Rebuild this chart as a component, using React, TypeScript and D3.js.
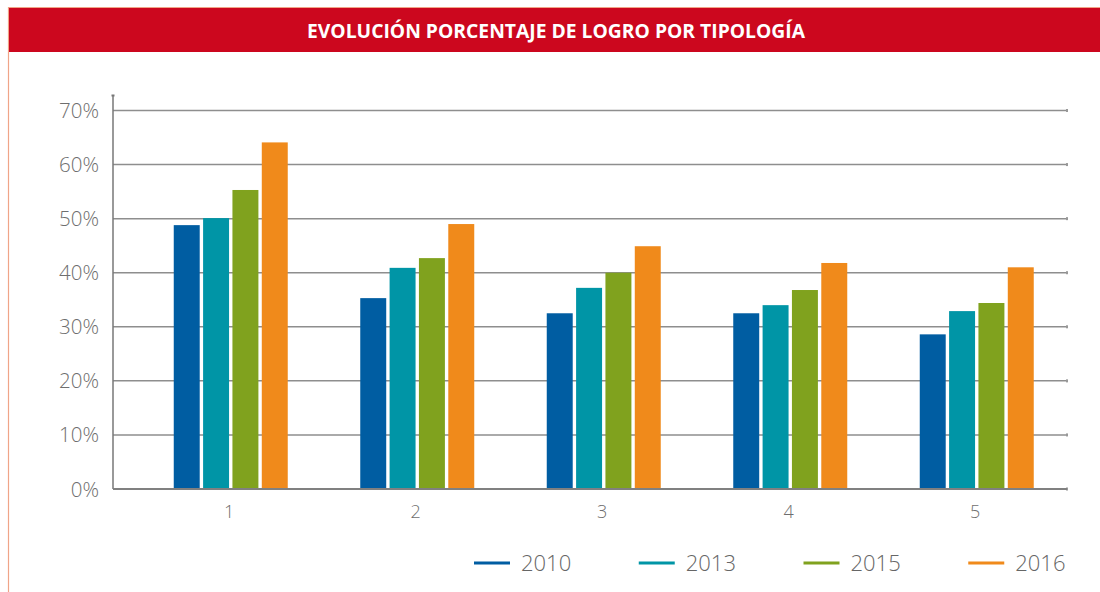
import React from "react";
import * as d3 from "d3";

const categories = ["1", "2", "3", "4", "5"];
const seriesNames = ["2010", "2013", "2015", "2016"];
const values2010 = [48.8, 35.3, 32.5, 32.5, 28.6];
const values2013 = [50.1, 40.9, 37.2, 34.0, 32.9];
const values2015 = [55.3, 42.7, 40.0, 36.8, 34.4];
const values2016 = [64.1, 49.0, 44.9, 41.8, 41.0];
const yTicks = [0, 10, 20, 30, 40, 50, 60, 70];
const colors = ["#005da2", "#0095a6", "#80a21e", "#f08a1b"];
const title = "EVOLUCIÓN PORCENTAJE DE LOGRO POR TIPOLOGÍA";

const W = 1100;
const H = 592;

export default function App() {
  const series = [values2010, values2013, values2015, values2016];
  const y = d3.scaleLinear().domain([0, 70]).range([489, 110.5]);
  const x0 = d3.scaleBand<string>().domain(categories).range([136, 1068.5]).paddingInner(0).paddingOuter(0);
  const groupW = 114;
  const x1 = d3.scaleBand<string>().domain(seriesNames).range([0, groupW]).paddingInner(0.115).paddingOuter(0);
  const axisX = 113;
  const gridEnd = 1067;
  const legendX = d3.scaleBand<string>().domain(seriesNames).range([474, 1133]);

  return (
    <div style={{ position: "absolute", left: 0, top: 0, width: W, height: H, background: "#fff" }}>
      <svg width={W} height={H} style={{ display: "block" }}>
        <rect x={0} y={0} width={W} height={H} fill="#fff" />
        {/* frame */}
        <line x1={8.5} y1={7} x2={8.5} y2={H} stroke="#f0a488" strokeWidth={1.2} />
        <line x1={8} y1={7.5} x2={W} y2={7.5} stroke="#f0a488" strokeWidth={1} />
        <rect x={9} y={8} width={W - 9} height={44} fill="#cc071e" />
        <text
          x={556}
          y={38}
          textAnchor="middle"
          fill="#fff"
          fontFamily="'Open Sans', 'DejaVu Sans', sans-serif"
          fontWeight={700}
          fontSize={20}
          textLength={498}
          lengthAdjust="spacingAndGlyphs"
        >
          {title}
        </text>

        {/* grid */}
        {yTicks.map((t) => (
          <g key={t}>
            {t > 0 && (
              <line x1={axisX} x2={gridEnd} y1={y(t)} y2={y(t)} stroke="#8e8e8e" strokeWidth={1.5} />
            )}
            <rect x={gridEnd - 1} y={y(t) - 1.5} width={2} height={3} fill="#999" />
            <text
              x={99}
              y={y(t) + 7.5}
              textAnchor="end"
              fill="#6e6e6e"
              fontFamily="'Open Sans', sans-serif"
              fontWeight={300}
              fontSize={20.5}
            >
              {t}%
            </text>
          </g>
        ))}

        {/* bars */}
        {categories.map((c, i) => (
          <g key={c} transform={`translate(${(x0(c) as number) + (x0.bandwidth() - groupW) / 2 + 1.5},0)`}>
            {seriesNames.map((s, j) => (
              <rect
                key={s}
                x={x1(s)}
                y={y(series[j][i])}
                width={x1.bandwidth()}
                height={y(0) - y(series[j][i])}
                fill={colors[j]}
              />
            ))}
          </g>
        ))}

        {/* axes */}
        <line x1={axisX} x2={axisX} y1={95} y2={489} stroke="#777" strokeWidth={1.5} />
        <rect x={axisX - 1.5} y={94.5} width={3} height={2} fill="#777" />
        <line x1={axisX} x2={gridEnd} y1={489} y2={489} stroke="#808080" strokeWidth={2} />

        {categories.map((c) => (
          <text
            key={c}
            x={(x0(c) as number) + x0.bandwidth() / 2}
            y={518}
            textAnchor="middle"
            fill="#6e6e6e"
            fontFamily="'Open Sans', sans-serif"
            fontWeight={300}
            fontSize={18}
          >
            {c}
          </text>
        ))}

        {/* legend */}
        {seriesNames.map((s, j) => {
          const lx = legendX(s) as number;
          return (
            <g key={s}>
              <line x1={lx} x2={lx + 36} y1={563} y2={563} stroke={colors[j]} strokeWidth={3} />
              <text
                x={lx + 47}
                y={571}
                fill="#666"
                fontFamily="'Open Sans', sans-serif"
                fontWeight={300}
                fontSize={22}
              >
                {s}
              </text>
            </g>
          );
        })}
      </svg>
    </div>
  );
}
